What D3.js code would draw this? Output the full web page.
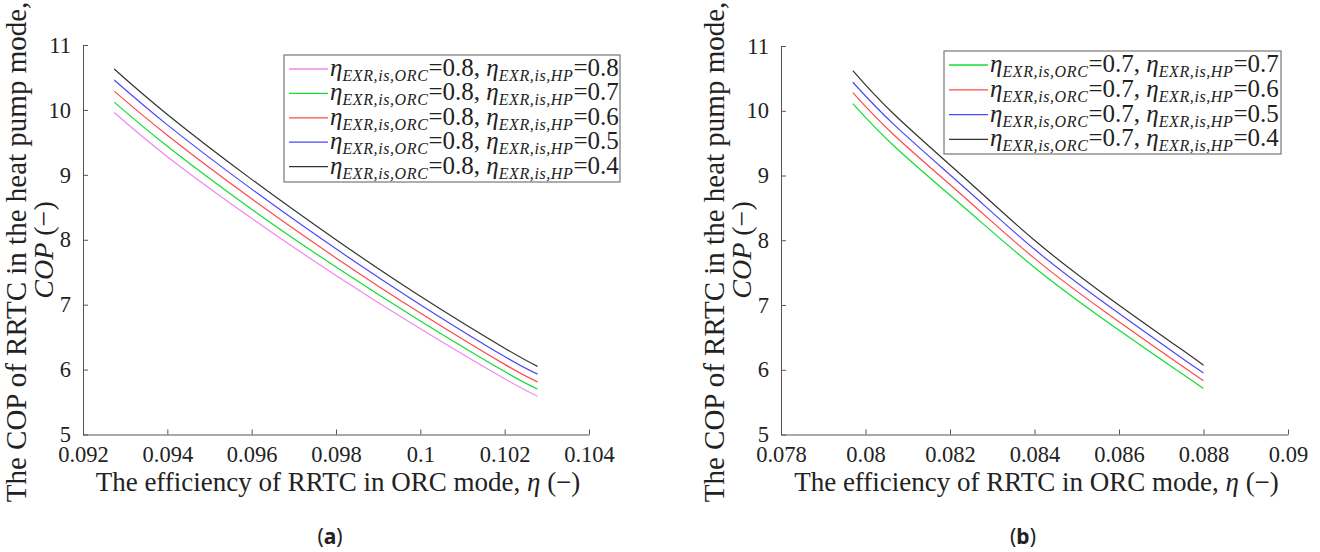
<!DOCTYPE html>
<html>
<head>
<meta charset="utf-8">
<script src="https://d3js.org/d3.v7.min.js"></script>
<style>
  body { margin: 0; background: #fff; }
  svg text { font-family: "Liberation Serif", serif !important; fill: #222; }
  .axis path, .axis line { stroke: #555; }
  .axis text { font-size: 22.5px; fill: #222; }
  svg text.cap { font-family: "Noto Sans", sans-serif !important; font-size: 21px; }
</style>
</head>
<body>
<svg id="chart" width="1320" height="552" style="font-family: 'Liberation Serif', serif"></svg>
<script>
// panel (a): eta_ORC = 0.8
const etaA = [0.09274, 0.094, 0.096, 0.098, 0.100, 0.102, 0.10278];
const copA_HP08 = [9.96, 9.28, 8.33, 7.45, 6.63, 5.86, 5.59];
const copA_HP07 = [10.12, 9.44, 8.47, 7.58, 6.75, 5.97, 5.70];
const copA_HP06 = [10.29, 9.61, 8.63, 7.72, 6.87, 6.08, 5.81];
const copA_HP05 = [10.46, 9.77, 8.78, 7.86, 7.00, 6.20, 5.93];
const copA_HP04 = [10.63, 9.93, 8.93, 8.00, 7.13, 6.33, 6.05];

// panel (b): eta_ORC = 0.7
const etaB = [0.0797, 0.0807, 0.0824, 0.0840, 0.0857, 0.0874, 0.0880];
const copB_HP07 = [10.11, 9.44, 8.47, 7.58, 6.75, 5.98, 5.71];
const copB_HP06 = [10.28, 9.61, 8.63, 7.72, 6.88, 6.10, 5.83];
const copB_HP05 = [10.44, 9.77, 8.78, 7.86, 7.01, 6.22, 5.95];
const copB_HP04 = [10.62, 9.93, 8.93, 8.00, 7.14, 6.35, 6.07];

const xTicksA = [0.092, 0.094, 0.096, 0.098, 0.1, 0.102, 0.104];
const xTicksB = [0.078, 0.08, 0.082, 0.084, 0.086, 0.088, 0.09];
const yTicks = [5, 6, 7, 8, 9, 10, 11];

const xTitle = "The efficiency of RRTC in ORC mode, ";
const yTitle1 = "The COP of RRTC in the heat pump mode,";

const colors = {pink: "#ee88ee", green: "#11dd33", red: "#ff4848", blue: "#4848ff", black: "#333333"};

const svg = d3.select("#chart");

function drawPanel(p) {
  const x = d3.scaleLinear().domain(p.xDomain).range([p.left, p.right]);
  const y = d3.scaleLinear().domain([5, 11]).range([p.bottom, p.top]);
  const g = svg.append("g");

  g.append("g").attr("class", "axis")
    .attr("transform", `translate(0,${p.bottom})`)
    .call(d3.axisBottom(x).tickValues(p.xTicks).tickFormat(d => String(+d.toFixed(3)))
      .tickSize(-5).tickSizeOuter(0).tickPadding(12));

  g.append("g").attr("class", "axis")
    .attr("transform", `translate(${p.left},0)`)
    .call(d3.axisLeft(y).tickValues(yTicks).tickFormat(d3.format("d"))
      .tickSize(-5).tickSizeOuter(0).tickPadding(12));

  g.selectAll(".axis").attr("font-family", null);

  const line = d3.line().x(d => x(d[0])).y(d => y(d[1])).curve(d3.curveNatural);
  p.series.forEach(s => {
    g.append("path")
      .datum(p.eta.map((e, i) => [e, s.values[i]]))
      .attr("fill", "none")
      .attr("stroke", s.color)
      .attr("stroke-width", 1.2)
      .attr("d", line);
  });

  // axis titles
  const xt = g.append("text")
    .attr("x", (p.left + p.right) / 2 + 2).attr("y", 491)
    .attr("text-anchor", "middle").style("font-size", "27px");
  xt.append("tspan").text(xTitle);
  xt.append("tspan").style("font-style", "italic").text("η");
  xt.append("tspan").text(" (−)");

  g.append("text")
    .attr("transform", `translate(${p.left - 57},252) rotate(-90)`)
    .attr("text-anchor", "middle").style("font-size", "29px")
    .text(yTitle1);
  const yt2 = g.append("text")
    .attr("transform", `translate(${p.left - 30},250) rotate(-90)`)
    .attr("text-anchor", "middle").style("font-size", "28px");
  yt2.append("tspan").style("font-style", "italic").text("COP");
  yt2.append("tspan").text(" (−)");

  // legend
  const lg = g.append("g");
  lg.append("rect")
    .attr("x", p.legend.x).attr("y", p.legend.y)
    .attr("width", p.legend.w).attr("height", p.legend.h)
    .attr("fill", "#fff").attr("stroke", "#777").attr("stroke-width", 1.2);
  p.series.forEach((s, i) => {
    const ry = p.legend.y + 14 + i * p.legend.step;
    lg.append("line")
      .attr("x1", p.legend.x + 5).attr("x2", p.legend.x + 44)
      .attr("y1", ry).attr("y2", ry)
      .attr("stroke", s.color).attr("stroke-width", 1.3);
    const t = lg.append("text")
      .attr("x", p.legend.x + 46).attr("y", ry + 7)
      .style("font-size", "25px");
    t.append("tspan").style("font-style", "italic").text("η");
    t.append("tspan").attr("dy", 5).style("font-size", "16px").style("font-style", "italic")
      .style("letter-spacing", "0.6px").text("EXR,is,ORC");
    t.append("tspan").attr("dy", -5).text("=" + p.orc + ", ");
    t.append("tspan").style("font-style", "italic").text("η");
    t.append("tspan").attr("dy", 5).style("font-size", "16px").style("font-style", "italic")
      .style("letter-spacing", "0.6px").text("EXR,is,HP");
    t.append("tspan").attr("dy", -5).text("=" + s.hp);
  });

  // caption
  const cap = g.append("text").attr("class", "cap")
    .attr("x", p.capX).attr("y", 544).attr("text-anchor", "middle");
  cap.append("tspan").text("(");
  cap.append("tspan").style("font-weight", "bold").text(p.capLetter);
  cap.append("tspan").text(")");
}

drawPanel({
  xDomain: [0.092, 0.104], xTicks: xTicksA, eta: etaA,
  left: 83, right: 589, top: 45, bottom: 434.5,
  orc: "0.8",
  series: [
    {values: copA_HP08, color: colors.pink, hp: "0.8"},
    {values: copA_HP07, color: colors.green, hp: "0.7"},
    {values: copA_HP06, color: colors.red, hp: "0.6"},
    {values: copA_HP05, color: colors.blue, hp: "0.5"},
    {values: copA_HP04, color: colors.black, hp: "0.4"}
  ],
  legend: {x: 284, y: 55, w: 336, h: 127, step: 24.4},
  capX: 330, capLetter: "a"
});

drawPanel({
  xDomain: [0.078, 0.09], xTicks: xTicksB, eta: etaB,
  left: 781, right: 1288, top: 46, bottom: 434.5,
  orc: "0.7",
  series: [
    {values: copB_HP07, color: colors.green, hp: "0.7"},
    {values: copB_HP06, color: colors.red, hp: "0.6"},
    {values: copB_HP05, color: colors.blue, hp: "0.5"},
    {values: copB_HP04, color: colors.black, hp: "0.4"}
  ],
  legend: {x: 944, y: 51, w: 337, h: 103, step: 24.8},
  capX: 1023, capLetter: "b"
});
</script>
</body>
</html>
